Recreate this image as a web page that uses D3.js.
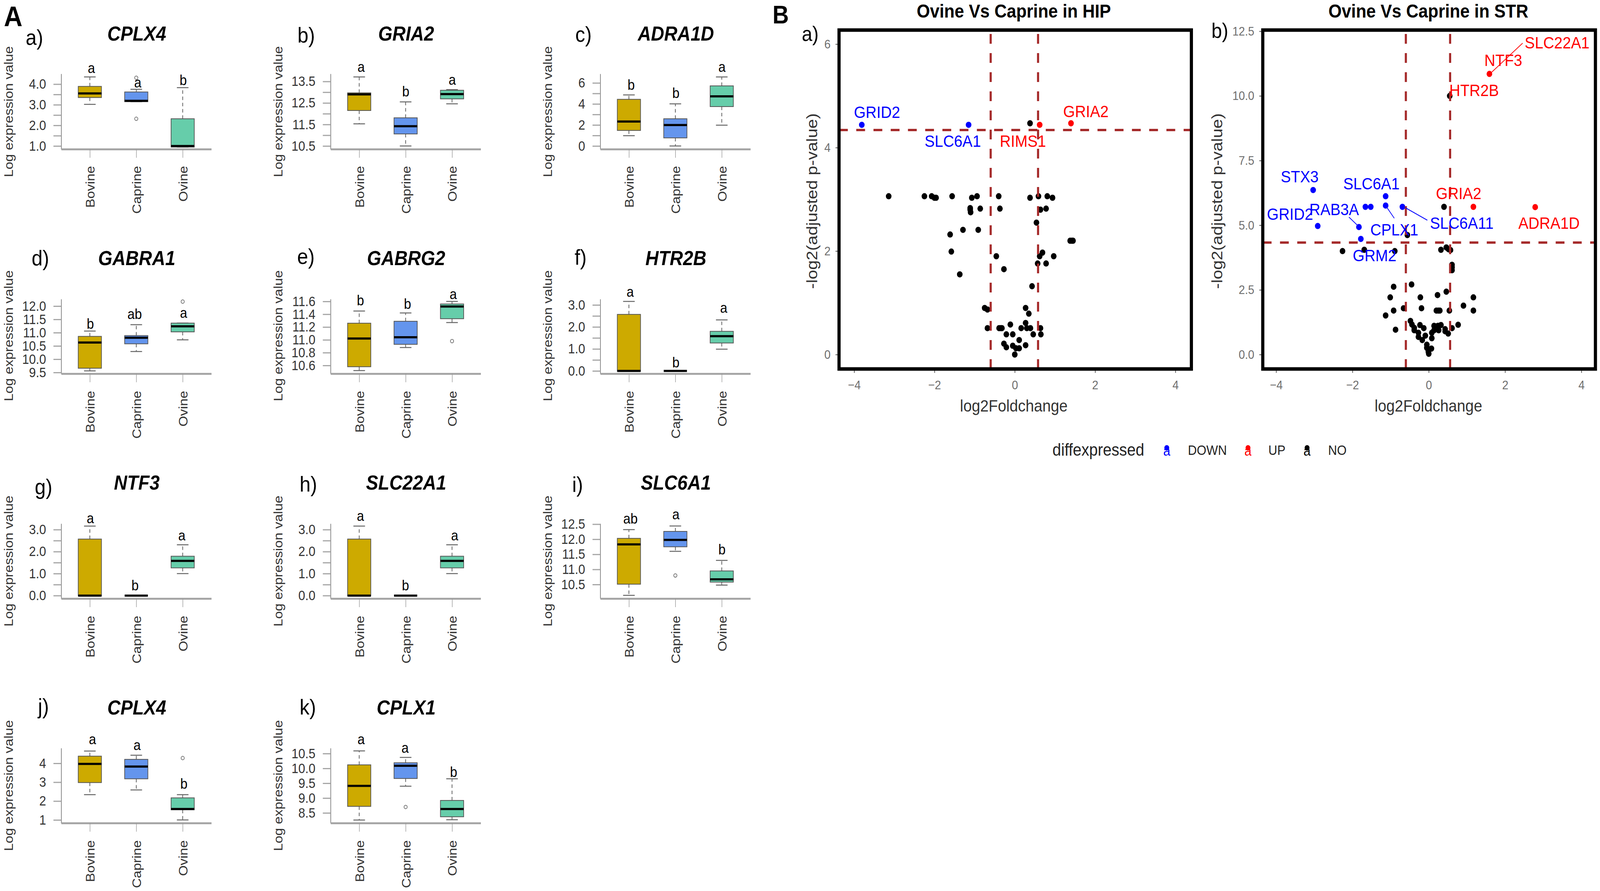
<!DOCTYPE html>
<html><head><meta charset="utf-8">
<script src="https://cdn.jsdelivr.net/npm/d3@7"></script>
<style>html,body{margin:0;padding:0;background:#fff;overflow:hidden}svg{display:block;width:100vw;height:100vh}text{font-family:"Liberation Sans",Arial,sans-serif}</style>
</head><body><svg id="c" viewBox="0 0 4550 2282" preserveAspectRatio="none"></svg>
<script>
// ---------- DATA: box plots ----------
const species = ["Bovine","Caprine","Ovine"];
const panelTags = ["a)","b)","c)","d)","e)","f)","g)","h)","i)","j)","k)"];
const genes = ["CPLX4","GRIA2","ADRA1D","GABRA1","GABRG2","HTR2B","NTF3","SLC22A1","SLC6A1","CPLX4","CPLX1"];
// each row: low whisker, q1, median, q3, high whisker
const bovineStats = [
 [3.02,3.35,3.55,3.89,4.35],[11.53,12.15,12.90,12.97,13.71],[0.98,1.48,2.33,4.44,4.86],
 [9.56,9.66,10.63,10.86,11.06],[10.52,10.58,11.02,11.26,11.45],[0,-0.02,0,2.57,3.16],
 [0,-0.02,0,2.57,3.16],[0,-0.02,0,2.57,3.16],[10.14,10.51,11.83,12.03,12.32],
 [2.34,2.98,3.97,4.38,4.65],[8.26,8.72,9.41,10.12,10.59]];
const caprineStats = [
 [3.15,3.15,3.19,3.62,3.75],[10.5,11.06,11.42,11.81,12.55],[0,0.77,1.99,2.59,4.01],
 [10.29,10.58,10.81,10.89,11.30],[10.88,10.93,11.04,11.29,11.42],[0,0,0,0,0],
 [0,0,0,0,0],[0,0,0,0,0],[11.60,11.75,11.98,12.26,12.44],
 [2.59,3.18,3.83,4.21,4.43],[9.40,9.66,10.09,10.19,10.37]];
const ovineStats = [
 [0.95,0.95,1.0,2.32,3.83],[12.46,12.69,12.91,13.09,13.12],[1.98,3.75,4.72,5.72,6.57],
 [10.73,11.03,11.24,11.36,11.36],[11.27,11.33,11.52,11.56,11.60],[0.99,1.27,1.58,1.80,2.32],
 [1.0,1.26,1.58,1.79,2.31],[1.0,1.26,1.58,1.79,2.31],[10.48,10.58,10.67,10.95,11.30],
 [1.0,1.54,1.58,2.17,2.34],[8.27,8.37,8.63,8.92,9.65]];
const outliers = [ // panel index, species, value
 [0,"Caprine",2.32],[0,"Caprine",4.31],[3,"Ovine",12.17],[4,"Ovine",10.98],
 [8,"Caprine",10.80],[9,"Ovine",4.28],[10,"Caprine",8.70]];
const groupLetters = [["a","a","b"],["a","b","a"],["b","b","a"],["b","ab","a"],["b","b","a"],["a","b","a"],
 ["a","b","a"],["a","b","a"],["ab","a","b"],["a","a","b"],["a","a","b"]];
const tickValues = [
 [1,1.5,2,2.5,3,3.5,4],[10.5,11,11.5,12,12.5,13,13.5],[0,1,2,3,4,5,6],
 [9.5,10,10.5,11,11.5,12],[10.6,10.8,11,11.2,11.4,11.6],[0,.5,1,1.5,2,2.5,3],
 [0,.5,1,1.5,2,2.5,3],[0,.5,1,1.5,2,2.5,3],[10.5,11,11.5,12,12.5],
 [1,2,3,4],[8.5,9,9.5,10,10.5]];
const tickLabels = [
 ["1.0","","2.0","","3.0","","4.0"],["10.5","","11.5","","12.5","","13.5"],["0","","2","","4","","6"],
 ["9.5","10.0","10.5","11.0","11.5","12.0"],["10.6","10.8","11.0","11.2","11.4","11.6"],["0.0","","1.0","","2.0","","3.0"],
 ["0.0","","1.0","","2.0","","3.0"],["0.0","","1.0","","2.0","","3.0"],["10.5","11.0","11.5","12.0","12.5"],
 ["1","2","3","4"],["8.5","9.0","9.5","10.0","10.5"]];
const boxColors = ["#CDAA00","#6495ED","#66CDAA"];
const ylabelA = "Log expression value";

// ---------- DATA: volcano plots ----------
const hipNo = [[-3.14,3.06],[-2.25,3.06],[-2.07,3.06],[-2.00,3.03],[-1.96,3.03],[-1.56,3.06],[-1.07,3.03],[-0.94,3.06],[-0.40,3.06],[0.38,3.03],[0.59,3.06],[0.81,3.06],[0.94,3.03],
 [-1.11,2.83],[-1.11,2.80],[-1.10,2.75],[-0.86,2.82],[-0.37,2.82],[0.64,2.80],[0.78,2.82],[0.54,2.55],[-1.29,2.41],[-0.91,2.41],[-1.61,2.32],[1.38,2.20],[1.42,2.20],[1.45,2.20],
 [-1.58,1.99],[-0.46,1.90],[0.69,1.97],[0.62,1.90],[0.97,1.90],[0.57,1.76],[0.78,1.76],[-0.27,1.65],[-1.37,1.55],[0.43,1.32],[-0.75,0.90],[-0.68,0.87],[0.27,0.90],[0.35,0.79],
 [-0.68,0.51],[-0.39,0.51],[-0.35,0.51],[-0.32,0.51],[-0.11,0.58],[0.16,0.51],[0.27,0.61],[0.30,0.51],[0.39,0.51],[-0.21,0.39],[-0.05,0.39],[0.46,0.39],[0.64,0.51],[0.65,0.39],
 [0.11,0.28],[-0.27,0.21],[-0.21,0.14],[-0.05,0.17],[0.03,0.12],[0.11,0.12],[0.27,0.18],[0.0,0.0],[0.38,4.47]];
const hipDown = [[-3.81,4.44],[-1.15,4.44]];
const hipUp = [[0.62,4.44],[1.40,4.47]];
const strNo = [[0.55,10.0],[-0.56,4.62],[-2.26,4.0],[-1.69,4.05],[-0.89,4.0],[0.32,4.05],[0.46,4.14],[0.57,4.04],[0.52,4.07],[0.61,3.47],[0.61,3.26],[0.61,3.37],
 [-0.45,2.71],[-0.92,2.62],[0.46,2.43],[0.23,2.30],[-1.01,2.21],[-0.22,2.21],[1.17,2.21],[0.91,1.89],[-0.66,1.79],[-0.19,1.79],[-0.92,1.70],[0.20,1.70],[0.29,1.70],[0.25,1.70],[0.54,1.70],[1.17,1.70],[-1.13,1.51],
 [0.77,1.15],[-0.87,0.96],[-0.48,1.30],[-0.44,1.16],[-0.38,1.03],[-0.38,0.94],[-0.23,1.14],[-0.13,1.02],[-0.27,0.84],[-0.27,0.68],[-0.09,0.73],[-0.17,0.56],[-0.05,0.38],[-0.05,0.26],[0.07,0.23],[-0.01,0.11],[0.0,0.03],
 [0.08,0.63],[0.08,0.84],[0.14,0.94],[0.14,1.11],[0.24,1.11],[0.26,0.94],[0.32,1.14],[0.43,0.98],[0.51,0.81],[0.43,0.90],[0.61,1.02],[0.40,5.71]];
const strDown = [[-3.03,6.36],[-2.91,4.97],[-1.83,4.93],[-1.78,4.47],[-1.13,6.12],[-1.13,5.76],[-0.69,5.71],[-1.66,5.71],[-1.52,5.71]];
const strUp = [[1.17,5.71],[2.79,5.70],[1.59,10.85]];
const hipThresholds = [-0.6,0.58,4.34];
const strThresholds = [-0.6,0.56,4.33];
const hipLabels = [["GRID2","down"],["SLC6A1","down"],["RIMS1","up"],["GRIA2","up"]];
const strLabels = [["SLC22A1","up"],["NTF3","up"],["HTR2B","up"],["GRIA2","up"],["ADRA1D","up"],["STX3","down"],["SLC6A1","down"],["RAB3A","down"],["GRID2","down"],["CPLX1","down"],["SLC6A11","down"],["GRM2","down"]];
const legendEntries = [["DOWN","#0000ff"],["UP","#ff0000"],["NO","#000000"]];
const xTicksVolcano = [-4,-2,0,2,4];
const yTicksHip = [0,2,4,6];
const yTicksStr = [0,2.5,5,7.5,10,12.5];

// ---------- LAYOUT (pixels) ----------
const colX = [174,940,1707];
const titleCx = [389,1155,1922];
const rows = [
 {top:189,base:382,labelY:425,yl:286,title:104},
 {top:766,base:957,labelY:1001,yl:860,title:679},
 {top:1341,base:1533,labelY:1577,yl:1437,title:1254},
 {top:1916,base:2108,labelY:2152,yl:2012,title:1830}];
const calib = [[4,215.5,1,373.9],[13.5,208.6,10.5,373.9],[6,212.4,0,373.9],
 [12,784,9.5,954],[11.6,772,10.6,936],[3,781,0,950],
 [3,1356.4,0,1525.4],[3,1356.4,0,1525.4],[12.5,1342.5,10.5,1497],
 [4,1955,1,2100],[10.5,1930,8.5,2082]];
const tagPos = [[73,115],[846,109],[1636,107],[90,680],[845,676],[1634,678],[99,1266],[852,1259],[1627,1260],[108,1828],[852,1830]];
const letterPos = [
 [[260,187.5],[392,224],[521,218]],[[1027,184.5],[1154,247],[1286,217]],[[1795,229.6],[1922,250.7],[2053,184.5]],
 [[257,842.5],[383,817.5],[522,814]],[[1025,782],[1159,791],[1289,766]],[[1792,760],[1922,941],[2058,801]],
 [[257,1340],[384,1512],[517,1384]],[[1025,1334],[1153,1512],[1293,1384]],[[1793,1341],[1922,1330],[2053,1420]],
 [[263,1906],[390,1921],[523,2020]],[[1027,1906],[1152,1928],[1290,1990]]];
const hipLabelPos = [[2494,302],[2709.5,376],[2909,376],[3088,300]];
const strLabelPos = [[4428,124.5],[4275,169],[4192,246],[4148,510.5],[4405,586],[3696,467],[3900,485],[3794,551],[3668.5,563],[3965,603],[4157,586],[3909,669]];
const strLinks = [[[4236,190],[4330,110.5],"#ff0000"],[[3836,556],[3862.5,579],"#0000ff"],[[3945,532.7],[3965,559],"#0000ff"],[[3996.4,532],[4059,564],"#0000ff"]];

const svg = d3.select("#c");
const txt = (g,x,y,s,size,o={})=> g.append("text").attr("x",x).attr("y",y).text(s)
  .attr("font-size",size).attr("fill",o.fill||"#000").attr("font-weight",o.weight||null)
  .attr("font-style",o.style||null).attr("text-anchor",o.anchor||"start").attr("transform",o.transform||null);

txt(svg,11,67,"A",73,{weight:"bold"});
txt(svg,2197,60,"B",64,{weight:"bold"});

// ---------- Panel A ----------
genes.forEach((gene,i)=>{
  const row = rows[Math.floor(i/3)], col = i%3, ax = colX[col];
  const g = svg.append("g");
  const [va,pa,vb,pb] = calib[i];
  const y0 = d3.scaleLinear().domain([va,vb]).range([pa,pb]);
  const y = d3.scaleLinear().domain([y0.invert(row.base),y0.invert(row.top)]).range([row.base,row.top]);
  const x = d3.scalePoint().domain(species).range([ax,ax+427]).padding(0.6174);

  const yAxis = g.append("g").attr("transform",`translate(${ax},0)`)
    .call(d3.axisLeft(y).tickValues(tickValues[i]).tickSizeInner(22).tickSizeOuter(0).tickPadding(21)
      .tickFormat((d,k)=>tickLabels[i][k]));
  yAxis.select(".domain").attr("stroke","#808080").attr("stroke-width",2);
  yAxis.selectAll(".tick line").attr("stroke","#a6a6a6").attr("stroke-width",3);
  yAxis.selectAll(".tick text").attr("font-size",35).attr("font-family","Liberation Sans").attr("fill","#333");

  const xAxis = g.append("g").attr("transform",`translate(0,${row.base})`)
    .call(d3.axisBottom(x).tickSizeInner(22).tickSizeOuter(0));
  xAxis.select(".domain").attr("stroke","#a6a6a6").attr("stroke-width",5);
  xAxis.selectAll(".tick line").attr("stroke","#999").attr("stroke-width",1.5);
  xAxis.selectAll(".tick text").attr("font-size",35).attr("font-family","Liberation Sans").attr("fill","#333")
    .attr("x",0).attr("y",0).attr("dy",0).attr("text-anchor","end")
    .attr("transform",`translate(13,${row.labelY-row.base}) rotate(-90)`);

  txt(g,ax-137,row.yl,ylabelA,35.5,{fill:"#333",anchor:"middle",transform:`rotate(-90,${ax-137},${row.yl})`});
  txt(g,titleCx[col],row.title,gene,52,{weight:"bold",style:"italic",anchor:"middle"});
  txt(g,tagPos[i][0],tagPos[i][1],panelTags[i],56);

  [bovineStats,caprineStats,ovineStats].forEach((stats,k)=>{
    const [lo,q1,med,q3,hi] = stats[i], cx = x(species[k]);
    const seg = (x1,y1,x2,y2,c,w,d)=> g.append("line").attr("x1",x1).attr("y1",y1).attr("x2",x2).attr("y2",y2)
      .attr("stroke",c).attr("stroke-width",w).attr("stroke-dasharray",d||null);
    seg(cx,y(q3),cx,y(hi),"#555",2,"9 7");
    seg(cx,y(q1),cx,y(lo),"#555",2,"9 7");
    seg(cx-16.5,y(hi),cx+16.5,y(hi),"#666",2.5);
    seg(cx-16.5,y(lo),cx+16.5,y(lo),"#666",2.5);
    g.append("rect").attr("x",cx-33).attr("width",66).attr("y",y(q3)).attr("height",Math.max(0,y(q1)-y(q3)))
      .attr("fill",boxColors[k]).attr("stroke","#555").attr("stroke-width",2);
    seg(cx-33,y(med),cx+33,y(med),"#000",5.5);
    txt(g,letterPos[i][k][0],letterPos[i][k][1],groupLetters[i][k],37,{anchor:"middle"});
  });
  outliers.filter(o=>o[0]===i).forEach(o=>{
    g.append("circle").attr("cx",x(o[1])).attr("cy",y(o[2])).attr("r",4.5)
      .attr("fill","none").attr("stroke","#666").attr("stroke-width",1.8);
  });
});

// ---------- Panel B ----------
function volcano(o){
  const g = svg.append("g");
  const x = d3.scaleLinear().domain([-4,4]).range(o.xr);
  const y = d3.scaleLinear().domain(o.yd).range(o.yr);
  const xa = g.append("g").attr("transform",`translate(0,${o.frame[3]})`)
    .call(d3.axisBottom(x).tickValues(xTicksVolcano).tickSizeInner(10).tickSizeOuter(0).tickPadding(19));
  const ya = g.append("g").attr("transform",`translate(${o.frame[0]},0)`)
    .call(d3.axisLeft(y).tickValues(o.yticks).tickSizeInner(10).tickSizeOuter(0).tickPadding(14).tickFormat(o.yfmt));
  [xa,ya].forEach(a=>{
    a.select(".domain").remove();
    a.selectAll(".tick line").attr("stroke","#555").attr("stroke-width",2);
    a.selectAll(".tick text").attr("font-size",32).attr("font-family","Liberation Sans").attr("fill","#6e6e6e");
  });
  const dots = (arr,c)=> g.append("g").selectAll("circle").data(arr).join("circle")
    .attr("cx",d=>x(d[0])).attr("cy",d=>y(d[1])).attr("r",8).attr("fill",c);
  dots(o.no,"#000"); dots(o.down,"#0000ff"); dots(o.up,"#ff0000");
  const [tl,tr,th] = o.thr;
  const line = (x1,y1,x2,y2)=> g.append("line").attr("x1",x1).attr("y1",y1).attr("x2",x2).attr("y2",y2)
    .attr("stroke","#A52A2A").attr("stroke-width",6).attr("stroke-dasharray","25 24");
  line(x(tl),o.frame[3],x(tl),o.frame[1]);
  line(x(tr),o.frame[3],x(tr),o.frame[1]);
  line(o.frame[0],y(th),o.frame[2],y(th));
  (o.links||[]).forEach(l=> g.append("line").attr("x1",l[0][0]).attr("y1",l[0][1]).attr("x2",l[1][0]).attr("y2",l[1][1])
    .attr("stroke",l[2]).attr("stroke-width",2));
  o.labels.forEach((l,i)=> txt(g,o.labelPos[i][0],o.labelPos[i][1],l[0],43,{fill:l[1]==="up"?"#ff0000":"#0000ff",anchor:"middle"}));
  g.append("rect").attr("x",o.frame[0]).attr("y",o.frame[1]).attr("width",o.frame[2]-o.frame[0]).attr("height",o.frame[3]-o.frame[1])
    .attr("fill","none").attr("stroke","#000").attr("stroke-width",9);
  txt(g,o.titleX,45,o.title,48.5,{weight:"bold",anchor:"middle"});
  txt(g,o.titleX,1054.5,"log2Foldchange",43,{fill:"#333",anchor:"middle"});
  txt(g,o.ylx,515,"-log2(adjusted p-value)",44,{fill:"#333",anchor:"middle",transform:`rotate(-90,${o.ylx},515)`});
  txt(g,o.tag[0],o.tag[1],o.tag[2],54);
}
volcano({xr:[2429,3342.5],yd:[0,6],yr:[908,113],frame:[2386,77,3388,945],yticks:yTicksHip,yfmt:d3.format("d"),
  no:hipNo,down:hipDown,up:hipUp,thr:hipThresholds,labels:hipLabels,labelPos:hipLabelPos,
  title:"Ovine Vs Caprine in HIP",titleX:2883,ylx:2324,tag:[2280,105,"a)"]});
volcano({xr:[3629,4497],yd:[0,12.5],yr:[908,80],frame:[3591,77,4537,945],yticks:yTicksStr,yfmt:d3.format(".1f"),
  no:strNo,down:strDown,up:strUp,thr:strThresholds,labels:strLabels,labelPos:strLabelPos,links:strLinks,
  title:"Ovine Vs Caprine in STR",titleX:4062,ylx:3476,tag:[3445,97,"b)"]});

// ---------- Legend ----------
const lg = svg.append("g");
txt(lg,2993,1167,"diffexpressed",44,{fill:"#222"});
const legendKeyX = [3318,3549,3717], legendTextX = [3378,3607,3777];
legendEntries.forEach((e,i)=>{
  lg.append("circle").attr("cx",legendKeyX[i]).attr("cy",1147).attr("r",7).attr("fill",e[1]);
  txt(lg,legendKeyX[i],1167,"a",36,{fill:e[1],anchor:"middle"});
  txt(lg,legendTextX[i],1165,e[0],35,{fill:"#222"});
});
</script></body></html>
